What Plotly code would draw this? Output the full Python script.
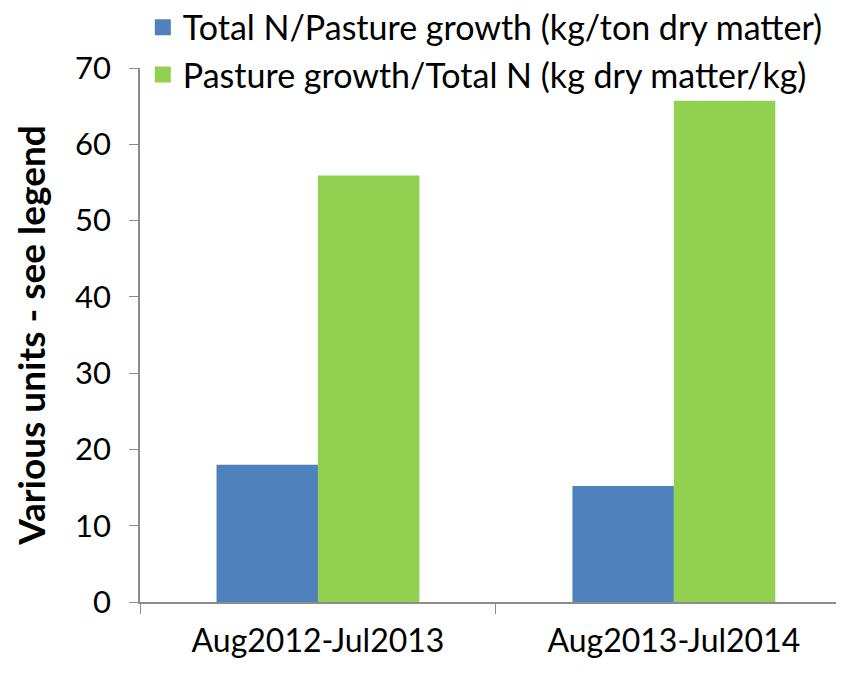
import plotly.graph_objects as go

# Pasture N ratios per season
seasons = ["Aug2012-Jul2013", "Aug2013-Jul2014"]
n_per_growth = [18.0, 15.2]
growth_per_n = [55.9, 65.7]

series_names = [
    "Total N/Pasture growth (kg/ton dry matter)",
    "Pasture growth/Total N (kg dry matter/kg)",
]
colors = ["#4F81BD", "#92D050"]

fig = go.Figure()
for name, vals, col in zip(series_names, [n_per_growth, growth_per_n], colors):
    fig.add_trace(go.Bar(x=seasons, y=vals, name=name, showlegend=False,
                         marker=dict(color=col, line=dict(width=0))))
# legend-only entries so the swatches are big squares like the original
for name, col in zip(series_names, colors):
    fig.add_trace(go.Scatter(x=[None], y=[None], mode="markers", name=name,
                             marker=dict(symbol="square", size=18, color=col)))

font = "Lato, 'Open Sans', sans-serif"
axis_grey = "#8c8c8c"

# page body has an 8px margin, so the figure is 8px smaller than the window
fig.update_layout(
    width=836, height=667,
    margin=dict(l=132, r=0, t=60, b=73, autoexpand=False),
    paper_bgcolor="white", plot_bgcolor="white",
    barmode="group", bargap=0.43, bargroupgap=0,
    font=dict(family=font, size=30, color="#000000"),
    legend=dict(x=0.004, y=1.13, xanchor="left", yanchor="top",
                bgcolor="rgba(0,0,0,0)", font=dict(size=34),
                itemwidth=30, tracegroupgap=0),
)
fig.update_xaxes(
    range=[-0.5, 1.478], showline=True, linecolor=axis_grey, linewidth=1.5,
    ticks="outside", tickson="boundaries", ticklen=10, tickcolor=axis_grey,
    showgrid=False, tickfont=dict(size=32), ticklabelstandoff=10,
)
fig.update_yaxes(
    range=[0, 70], dtick=10, showline=True, linecolor=axis_grey, linewidth=1.5,
    ticks="outside", ticklen=9, tickcolor=axis_grey, showgrid=False,
    zeroline=False, tickfont=dict(size=31), ticklabelstandoff=12,
    title=dict(text="<b>Various units - see legend</b>", font=dict(size=37), standoff=22),
)

fig.write_html("out.html")
